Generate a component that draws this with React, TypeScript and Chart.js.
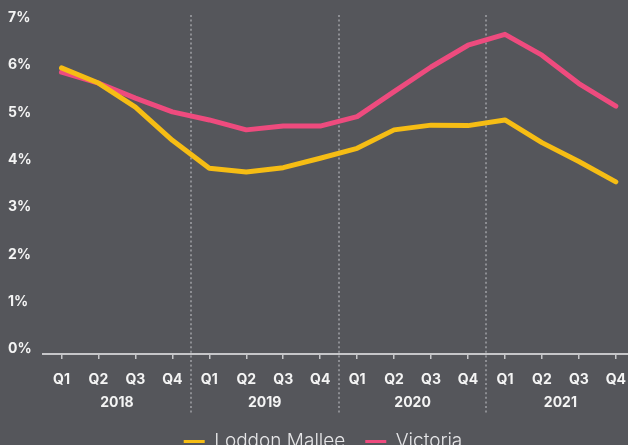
import React, { useEffect, useRef } from "react";
import { Chart, registerables } from "chart.js";

Chart.register(...registerables);

const quarters = [
  "Q1", "Q2", "Q3", "Q4",
  "Q1", "Q2", "Q3", "Q4",
  "Q1", "Q2", "Q3", "Q4",
  "Q1", "Q2", "Q3", "Q4",
];
const years = ["2018", "2019", "2020", "2021"];
const loddonMallee = [6.05, 5.73, 5.22, 4.52, 3.93, 3.85, 3.94, 4.14, 4.35, 4.74, 4.84, 4.83, 4.95, 4.47, 4.07, 3.64];
const victoria = [5.96, 5.73, 5.41, 5.12, 4.95, 4.74, 4.82, 4.82, 5.02, 5.55, 6.07, 6.53, 6.76, 6.32, 5.72, 5.24];
const yMin = 0;
const yMax = 7;
const yStep = 1;
const yearBoundaries = [4, 8, 12];

const BG = "#55565b";
const YELLOW = "#f6bd14";
const PINK = "#ee4b7e";
const TEXT = "#f4f4f4";
const AXIS = "#c6c6c9";
const FONT = "Inter, 'Open Sans', sans-serif";

const separatorPlugin = {
  id: "yearSeparators",
  beforeDatasetsDraw(chart: any) {
    const x = chart.scales.x;
    const area = chart.chartArea;
    const ctx = chart.ctx;
    ctx.save();
    ctx.strokeStyle = "#8d8e93";
    ctx.lineWidth = 2;
    ctx.setLineDash([2, 2.6]);
    yearBoundaries.forEach((b) => {
      const px = Math.round((x.getPixelForValue(b - 1) + x.getPixelForValue(b)) / 2);
      ctx.beginPath();
      ctx.moveTo(px, area.top - 8);
      ctx.lineTo(px, area.bottom + 61);
      ctx.stroke();
    });
    ctx.restore();
  },
};

export default function App() {
  const ref = useRef<HTMLCanvasElement | null>(null);
  useEffect(() => {
    if (!ref.current) return;
    const tickFont = { family: FONT, weight: "bold" as const, size: 14 };
    const chart = new Chart(ref.current, {
      type: "line",
      data: {
        labels: quarters,
        datasets: [
          {
            label: "Loddon Mallee",
            data: loddonMallee,
            borderColor: YELLOW,
            backgroundColor: YELLOW,
            borderWidth: 5,
            pointRadius: 0,
            tension: 0,
            borderCapStyle: "round",
            borderJoinStyle: "round",
          },
          {
            label: "Victoria",
            data: victoria,
            borderColor: PINK,
            backgroundColor: PINK,
            borderWidth: 5,
            pointRadius: 0,
            tension: 0,
            borderCapStyle: "round",
            borderJoinStyle: "round",
          },
        ],
      },
      options: {
        responsive: false,
        animation: false,
        layout: { padding: { left: 8, top: 23, right: 0, bottom: 0 } },
        plugins: {
          tooltip: { enabled: false },
          legend: {
            position: "bottom",
            labels: {
              boxWidth: 21,
              boxHeight: 3,
              padding: 20,
              color: "#e6e6e8",
              font: { family: FONT, weight: "300" as any, size: 19 },
              generateLabels: (c: any) =>
                c.data.datasets.map((ds: any, i: number) => ({
                  text: ds.label,
                  fillStyle: ds.borderColor,
                  strokeStyle: ds.borderColor,
                  lineWidth: 0,
                  hidden: false,
                  datasetIndex: i,
                  fontColor: "#e6e6e8",
                })),
            },
          },
        },
        scales: {
          x: {
            offset: true,
            grid: {
              display: true,
              drawOnChartArea: false,
              drawTicks: true,
              tickLength: 5,
              offset: false,
              color: AXIS,
              lineWidth: 1.5,
            },
            border: { display: true, color: AXIS, width: 2 },
            ticks: {
              color: TEXT,
              font: tickFont,
              padding: 12,
              maxRotation: 0,
              autoSkip: false,
            },
            afterFit: (s: any) => {
              s.height = 36;
            },
          },
          x2: {
            type: "category",
            labels: years,
            position: "bottom",
            offset: true,
            grid: { display: false, drawTicks: false },
            border: { display: false },
            ticks: { color: TEXT, font: tickFont, padding: 4, maxRotation: 0 },
            afterFit: (s: any) => {
              s.height = 22;
            },
          },
          y: {
            min: yMin,
            max: yMax,
            grid: { display: false },
            border: { display: false },
            ticks: {
              stepSize: yStep,
              callback: (v: any) => v + "%",
              color: TEXT,
              font: tickFont,
              crossAlign: "far",
              labelOffset: -5,
              padding: 0,
            },
            afterFit: (s: any) => {
              s.width = 35;
            },
          },
        },
      },
      plugins: [separatorPlugin],
    });
    return () => chart.destroy();
  }, []);

  return (
    <div
      style={{
        position: "absolute",
        left: 0,
        top: 0,
        width: 628,
        height: 445,
        overflow: "hidden",
        background: BG,
      }}
    >
      <canvas ref={ref} width={638} height={461} style={{ display: "block" }} />
    </div>
  );
}
